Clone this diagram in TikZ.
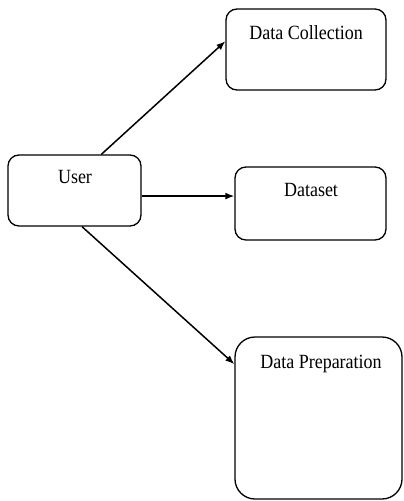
\documentclass[tikz,border=0pt]{standalone}
\usepackage{fontspec}
\setmainfont{Liberation Serif}
\usetikzlibrary{arrows.meta,calc}
\begin{document}
\begin{tikzpicture}[x=1pt,y=1pt,
  box/.style={draw,line width=1.3pt,rounded corners=11pt,inner sep=0pt},
  txt/.style={font=\fontsize{18}{20}\selectfont,inner sep=0pt,yscale=1.12},
  conn/.style={line width=1.5pt,-{Latex[length=9pt,width=7pt]}}]
\useasboundingbox (0,0) rectangle (404,-501);
\node[box,minimum width=133pt,minimum height=71pt] (u) at (74.5,-190.5) {};
\node[box,minimum width=160pt,minimum height=81pt] (dc) at (306,-49.5) {};
\node[box,minimum width=151pt,minimum height=73pt] (ds) at (310.5,-203.5) {};
\node[box,rounded corners=20pt,minimum width=167pt,minimum height=162pt] (dp) at (318.5,-418) {};
\node[txt] (ut) at (75,-177) {User};
\node[txt] (dct) at (306,-33) {Data Collection};
\node[txt] (dst) at (311,-190) {Dataset};
\node[txt] (dpt) at (321,-364) {Data Preparation};
\coordinate (dsin) at ($(ds.north west)!0.4!(ds.south west)$);
\draw[conn] ($(u.north west)!0.7!(u.north east)$) -- ($(dc.north west)!0.4!(dc.south west)$);
\draw[conn] (u.east |- dsin) -- (dsin);
\draw[conn] ($(u.south west)!0.556!(u.south east)$) -- ($(dp.north west)!0.17!(dp.south west)$);
\end{tikzpicture}
\end{document}
